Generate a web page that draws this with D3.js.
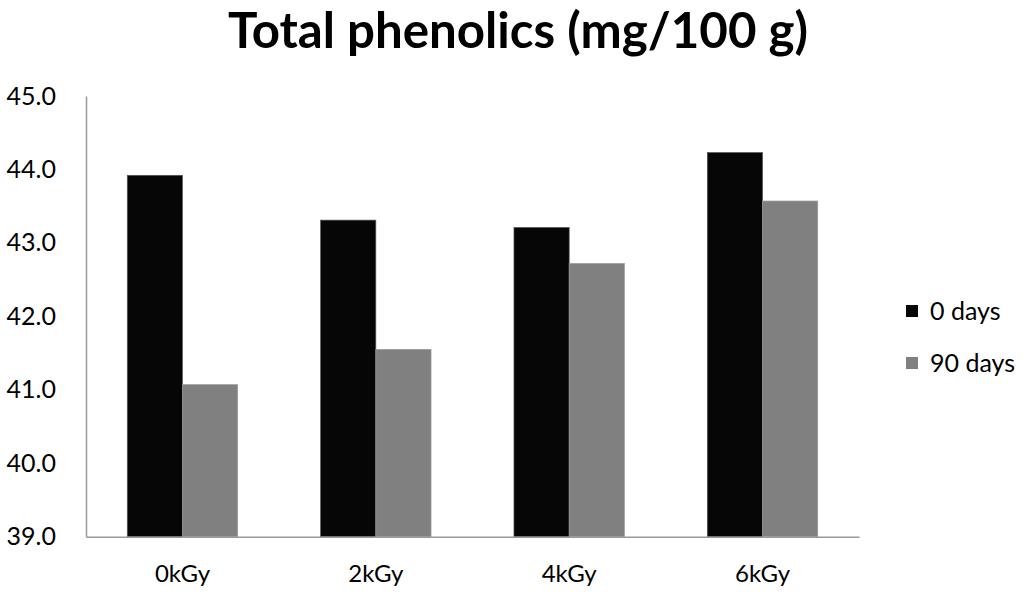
<!DOCTYPE html>
<html><head><meta charset="utf-8">
<script src="https://cdn.jsdelivr.net/npm/d3@7"></script>
<style>body{margin:0;background:#fff}svg{display:block}text{font-family:Lato,"Open Sans",sans-serif}</style>
</head><body><svg id="c" width="1024" height="597"></svg>
<script>
const categories = ["0kGy","2kGy","4kGy","6kGy"];
const seriesNames = ["0 days","90 days"];
const days0 = [43.92, 43.31, 43.21, 44.23];
const days90 = [41.07, 41.55, 42.72, 43.57];
const yTicks = [39,40,41,42,43,44,45];
const colors = ["#060606","#808080"];
const title = "Total phenolics (mg/100 g)";

const svg = d3.select("#c");
const x0 = d3.scaleBand().domain(categories).range([86, 859]).paddingInner(0.429).paddingOuter(0.2135);
const x1 = d3.scaleBand().domain(seriesNames).range([0, x0.bandwidth()]);
const y = d3.scaleLinear().domain([39,45]).range([536.7, 96]);

const data = categories.map((c,i)=>({c, vals:[days0[i], days90[i]]}));

const g = svg.append("g");
g.selectAll("g.grp").data(data).join("g").attr("class","grp")
 .attr("transform", d=>`translate(${x0(d.c)},0)`)
 .selectAll("rect").data(d=>d.vals.map((v,j)=>({v,j})))
 .join("rect")
 .attr("x", d=>x1(seriesNames[d.j]))
 .attr("y", d=>y(d.v))
 .attr("width", x1.bandwidth())
 .attr("height", d=>y(39)-y(d.v))
 .attr("fill", d=>colors[d.j])
 .attr("stroke", d=>d.j===0?"#555":"#999")
 .attr("stroke-width",0.7);

// y axis
const ya = svg.append("g").attr("transform","translate(86,0)")
 .call(d3.axisLeft(y).tickValues(yTicks).tickFormat(d3.format(".1f")).tickSize(0).tickPadding(30));
ya.select(".domain").attr("stroke","#999").attr("stroke-width",1.5);
ya.selectAll("text").attr("font-size",25).attr("fill","#000").attr("font-family","Lato");

// x axis
const xa = svg.append("g").attr("transform","translate(0,536.7)")
 .call(d3.axisBottom(x0).tickSize(0).tickPadding(28));
xa.select(".domain").attr("stroke","#999").attr("stroke-width",1.5);
xa.selectAll("text").attr("font-size",24).attr("fill","#000").attr("font-family","Lato");

// title
const t = svg.append("text").attr("x",518).attr("y",48).attr("text-anchor","middle")
 .attr("font-weight","bold").attr("font-size",48).text(title);
const w = t.node().getComputedTextLength();
t.attr("font-size", 48*580/w);

// legend
const lg = svg.append("g");
seriesNames.forEach((s,i)=>{
  const yy = 311 + i*52;
  lg.append("rect").attr("x",906).attr("y",yy-6).attr("width",12).attr("height",12).attr("fill",colors[i]);
  lg.append("text").attr("x",930).attr("y",yy+9).attr("font-size",25).text(s);
});
</script></body></html>
